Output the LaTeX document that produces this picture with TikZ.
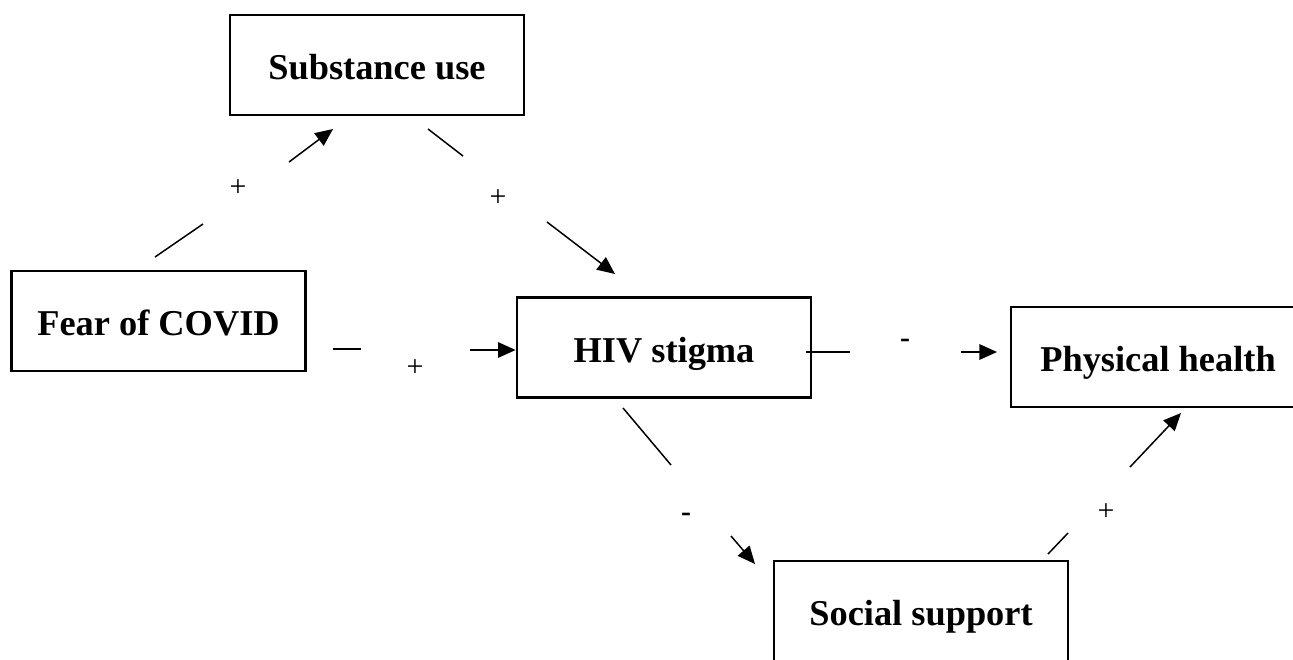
\documentclass[tikz,border=0pt]{standalone}
\usepackage{fontspec}
\setmainfont{Liberation Serif}
\usepackage{tikz}
\usetikzlibrary{arrows.meta}

\begin{document}
\begin{tikzpicture}[
    x=0.02cm, y=-0.02cm,
    block/.style={rectangle, draw, line width=1.6pt,
                minimum width=5.88cm, minimum height=2.0cm,
                inner sep=0pt, align=center,
                text height=18pt, text depth=1pt,
                font=\fontsize{20.7}{24}\selectfont\bfseries},
    sign/.style={font=\fontsize{17}{19}\selectfont, inner sep=0pt},
    path/.style={line width=0.85pt},
    >={Triangle[length=10pt,width=8.8pt]}
]
\clip (0,0) rectangle (1293,659);
\node[block] (substance) at (377,65) {Substance use};
\node[block] (fear) at (158.5,321) {Fear of COVID};
\node[block] (stigma) at (664,347.5) {HIV stigma};
\node[block] (health) at (1158,357) {Physical health};
\node[block] (support) at (921,611) {Social support};

% fear -> substance use
\coordinate (fs1) at (155,257);
\coordinate (fs2) at (203,224);
\coordinate (fs3) at (289,162);
\coordinate (fs4) at (333,129);
\node[sign] (fsl) at (238,188) {+};
\draw[path] (fs1) -- (fs2);
\draw[path,->] (fs3) -- (fs4);

% substance use -> stigma
\coordinate (ss1) at (428,129);
\coordinate (ss2) at (463,156);
\coordinate (ss3) at (547,222);
\coordinate (ss4) at (615,274);
\node[sign] (ssl) at (498,198) {+};
\draw[path] (ss1) -- (ss2);
\draw[path,->] (ss3) -- (ss4);

% fear -> stigma
\coordinate (fh1) at (333,349);
\coordinate (fh2) at (361,349);
\coordinate (fh3) at (470,350);
\node[sign] (fhl) at (415,368) {+};
\draw[path] (fh1) -- (fh2);
\draw[path,->] (fh3) -- (stigma.west |- fh3);

% stigma -> physical health
\coordinate (hp1) at (806,352);
\coordinate (hp2) at (850,352);
\coordinate (hp3) at (961,352);
\coordinate (hp4) at (997,352);
\node[sign] (hpl) at (905,343) {\bfseries -};
\draw[path] (hp1) -- (hp2);
\draw[path,->] (hp3) -- (hp4);

% stigma -> social support
\coordinate (hs1) at (623,408);
\coordinate (hs2) at (671,465);
\coordinate (hs3) at (731,536);
\coordinate (hs4) at (755,564);
\node[sign] (hsl) at (686,517) {\bfseries -};
\draw[path] (hs1) -- (hs2);
\draw[path,->] (hs3) -- (hs4);

% social support -> physical health
\coordinate (sp1) at (1048,554);
\coordinate (sp2) at (1068,533);
\coordinate (sp3) at (1130,467);
\coordinate (sp4) at (1181,413);
\node[sign] (spl) at (1106,512) {+};
\draw[path] (sp1) -- (sp2);
\draw[path,->] (sp3) -- (sp4);
\end{tikzpicture}
\end{document}
